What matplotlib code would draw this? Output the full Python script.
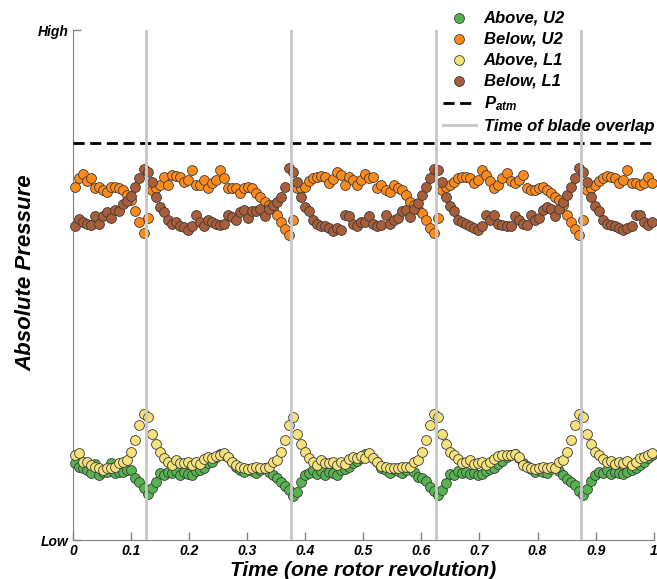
import numpy as np
import matplotlib
matplotlib.use("Agg")
import matplotlib.pyplot as plt

plt.rcParams['font.family'] = ['Liberation Sans', 'DejaVu Sans']
plt.rcParams['mathtext.fontset'] = 'custom'
plt.rcParams['mathtext.it'] = 'Liberation Sans:bold:italic'
plt.rcParams['mathtext.rm'] = 'Liberation Sans:bold:italic'

# one rotor revolution, 144 samples; pressure in arbitrary units (0 = Low, 100 = High)
n_samples = 144
time = (np.arange(n_samples) + 0.5) / n_samples

overlap_times = [0.125, 0.375, 0.625, 0.875]
p_atm = 77.8

above_u2 = [
    15.1, 14.3, 14.1, 13.7, 13.1, 14.9, 12.7, 13.3, 13.3, 15.1, 13.1, 13.3, 13.3, 13.7, 13.7, 12.2, 11.4, 10.2,
    9.0, 10.2, 11.4, 13.1, 12.7, 13.3, 13.1, 13.5, 12.7, 13.3, 12.9, 12.7, 13.5, 13.7, 14.1, 15.1, 15.3, 16.3,
    16.9, 16.7, 16.3, 15.3, 14.3, 13.7, 13.3, 13.9, 13.5, 13.1, 13.7, 14.1, 13.3, 12.7, 12.2, 11.4, 10.6, 9.8,
    8.6, 9.4, 11.4, 12.7, 13.1, 13.7, 12.9, 13.5, 12.7, 13.3, 13.1, 12.7, 13.7, 13.9, 14.3, 15.1, 15.5, 16.1,
    16.9, 16.5, 16.1, 15.3, 14.1, 13.7, 13.1, 13.9, 13.5, 13.1, 13.7, 14.3, 13.3, 12.4, 12.2, 11.6, 10.4, 9.6,
    8.8, 9.8, 11.2, 12.9, 12.7, 13.5, 13.1, 13.3, 12.9, 13.1, 12.7, 12.9, 13.5, 13.9, 14.1, 14.9, 15.5, 16.3,
    16.7, 16.9, 16.1, 15.1, 14.5, 13.9, 13.3, 13.7, 13.3, 13.1, 13.9, 14.1, 13.5, 12.7, 12.0, 11.4, 10.8, 9.6,
    8.8, 10.0, 11.6, 12.7, 13.3, 13.1, 13.7, 12.9, 13.3, 13.1, 12.9, 13.3, 13.7, 14.1, 14.7, 15.3, 16.1, 16.7,
]

below_u2 = [
    69.2, 71.0, 71.8, 70.4, 71.0, 69.0, 69.2, 68.6, 68.2, 69.2, 69.2, 69.0, 68.6, 67.6, 66.7, 64.6, 62.4, 60.2,
    63.1, 68.6, 69.0, 69.6, 71.2, 69.6, 71.6, 71.4, 71.2, 70.2, 70.6, 72.5, 69.6, 69.6, 70.6, 69.0, 70.0, 70.6,
    72.5, 71.0, 69.0, 69.0, 69.0, 68.0, 69.0, 69.2, 69.0, 68.0, 67.3, 66.3, 65.7, 65.0, 63.7, 62.4, 61.0, 59.8,
    62.7, 69.0, 69.0, 69.2, 70.4, 71.0, 71.2, 71.4, 71.2, 70.0, 70.8, 72.2, 71.6, 69.6, 71.2, 70.6, 69.6, 70.6,
    71.8, 71.0, 71.2, 69.0, 69.6, 68.6, 68.2, 69.6, 69.0, 68.6, 67.6, 66.3, 65.7, 64.9, 64.1, 62.7, 61.2, 60.2,
    63.1, 68.6, 69.2, 69.6, 70.2, 71.0, 71.2, 71.2, 71.0, 70.0, 70.6, 72.5, 71.6, 70.4, 69.0, 69.6, 71.0, 72.0,
    70.4, 70.0, 70.6, 71.6, 69.0, 68.6, 68.6, 69.0, 69.2, 68.6, 68.0, 67.3, 66.7, 65.7, 63.7, 62.4, 61.0, 59.8,
    62.7, 68.6, 69.0, 69.6, 70.4, 71.0, 71.4, 71.2, 71.0, 70.0, 70.6, 72.5, 70.0, 70.0, 69.6, 70.0, 71.2, 70.0,
]

above_l1 = [
    16.7, 17.1, 15.3, 15.3, 14.7, 14.3, 14.1, 13.7, 14.1, 14.1, 14.3, 15.1, 15.3, 15.7, 17.3, 19.6, 22.5, 24.7,
    24.1, 20.8, 18.8, 17.3, 16.1, 15.3, 14.7, 15.7, 15.1, 15.1, 15.3, 14.7, 15.3, 14.9, 15.9, 16.3, 16.1, 16.5,
    16.7, 17.1, 16.3, 15.3, 14.7, 14.3, 14.1, 13.9, 14.1, 14.3, 14.1, 14.1, 14.3, 15.3, 15.7, 17.3, 19.6, 22.5,
    24.1, 20.8, 18.8, 17.3, 16.1, 15.3, 14.7, 15.7, 15.1, 15.1, 15.3, 14.7, 15.3, 14.9, 15.9, 16.3, 16.1, 16.5,
    16.1, 17.1, 16.1, 15.3, 14.5, 14.3, 14.1, 14.1, 14.1, 14.3, 14.3, 14.3, 15.3, 15.7, 17.3, 19.6, 22.5, 24.7,
    24.1, 20.8, 18.8, 17.3, 16.7, 15.9, 15.1, 15.3, 15.7, 14.9, 15.1, 15.3, 14.7, 15.3, 15.9, 16.5, 16.7, 16.7,
    16.7, 16.9, 16.3, 14.7, 14.3, 14.1, 13.9, 14.1, 14.3, 14.1, 14.3, 14.1, 15.3, 15.7, 17.3, 19.6, 22.5, 24.7,
    24.1, 20.8, 18.8, 17.3, 16.7, 15.9, 15.3, 15.5, 14.9, 15.3, 15.1, 15.5, 14.7, 15.3, 16.1, 16.3, 16.7, 17.1,
]

below_l1 = [
    61.6, 62.9, 62.4, 62.0, 61.8, 63.5, 62.0, 63.5, 64.3, 63.1, 64.7, 64.5, 65.9, 66.5, 67.5, 69.2, 71.0, 72.7,
    72.2, 70.2, 67.3, 65.3, 64.3, 62.7, 62.0, 62.4, 61.6, 61.4, 60.8, 61.6, 63.7, 62.4, 61.6, 62.7, 62.4, 62.0,
    61.8, 62.0, 63.7, 63.3, 62.7, 64.3, 64.7, 63.1, 64.5, 64.5, 64.9, 63.5, 64.9, 65.7, 66.3, 67.3, 69.2, 72.9,
    72.2, 70.2, 67.3, 65.3, 64.5, 62.7, 62.0, 61.6, 61.6, 61.2, 60.6, 61.2, 60.8, 63.7, 63.5, 62.0, 61.6, 62.4,
    62.4, 63.5, 62.0, 61.6, 61.8, 63.7, 62.0, 62.7, 63.1, 64.5, 64.7, 63.3, 64.9, 66.1, 67.6, 69.2, 71.0, 72.7,
    72.5, 70.2, 67.3, 65.5, 64.5, 62.7, 62.4, 62.0, 61.6, 61.2, 60.8, 61.6, 63.7, 62.7, 63.7, 62.0, 61.8, 61.6,
    61.6, 63.5, 62.7, 62.0, 61.8, 63.7, 62.7, 63.1, 64.7, 65.3, 64.9, 63.5, 64.9, 66.3, 67.6, 69.2, 71.0, 72.9,
    72.2, 70.2, 67.3, 65.5, 64.5, 62.7, 62.0, 61.8, 61.6, 61.2, 60.8, 61.2, 61.6, 63.7, 63.7, 62.4, 61.8, 62.4,
]

xtick_values = [0, 0.1, 0.2, 0.3, 0.4, 0.5, 0.6, 0.7, 0.8, 0.9, 1]
xtick_labels = ['0', '0.1', '0.2', '0.3', '0.4', '0.5', '0.6', '0.7', '0.8', '0.9', '1']

fig = plt.figure(figsize=(6.57, 5.79), dpi=100)
ax = fig.add_axes([0.111, 0.067, 0.884, 0.881])

series = [
    (above_u2, '#55b44f', 'Above, U2'),
    (below_u2, '#ff8a1c', 'Below, U2'),
    (above_l1, '#f6e27a', 'Above, L1'),
    (below_l1, '#a95d38', 'Below, L1'),
]
for values, color, label in series:
    ax.scatter(time, values, s=50, color=color, edgecolors='#3a3a3a',
               linewidths=0.6, label=label, zorder=3, clip_on=False)

ax.axhline(p_atm, color='k', lw=2, ls=(0, (4, 2)), label=r'$P_{atm}$', zorder=4)
for i, t in enumerate(overlap_times):
    ax.axvline(t, color='#c8c8c8', lw=2, zorder=5,
               label='Time of blade overlap' if i == 0 else None)

ax.set_xlim(0, 1)
ax.set_ylim(0, 100)
ax.set_xticks(xtick_values)
ax.set_xticklabels(xtick_labels)
ax.set_yticks([0, 100])
ax.set_yticklabels(['Low', 'High'])
for lab in ax.get_xticklabels() + ax.get_yticklabels():
    lab.set_fontweight('bold')
    lab.set_fontstyle('italic')
    lab.set_fontsize(10)
ax.tick_params(direction='in', length=6, color='#808080', width=1, pad=3)

ax.spines['top'].set_visible(False)
ax.spines['right'].set_visible(False)
ax.spines['left'].set_color('#808080')
ax.spines['bottom'].set_color('#808080')

ax.set_xlabel('Time (one rotor revolution)', fontsize=15, fontweight='bold',
              fontstyle='italic', labelpad=2)
ax.set_ylabel('Absolute Pressure', fontsize=16, fontweight='bold',
              fontstyle='italic')
ax.yaxis.set_label_coords(-0.062, 0.525)

ax.legend(loc='upper left', bbox_to_anchor=(0.674, 0.982), bbox_transform=fig.transFigure,
          frameon=False, borderpad=0, borderaxespad=0, handlelength=2.0,
          handletextpad=0.45, labelspacing=0.36, scatterpoints=1,
          prop={'weight': 'bold', 'style': 'italic', 'size': 12})

fig.savefig('out.png', dpi=100)
